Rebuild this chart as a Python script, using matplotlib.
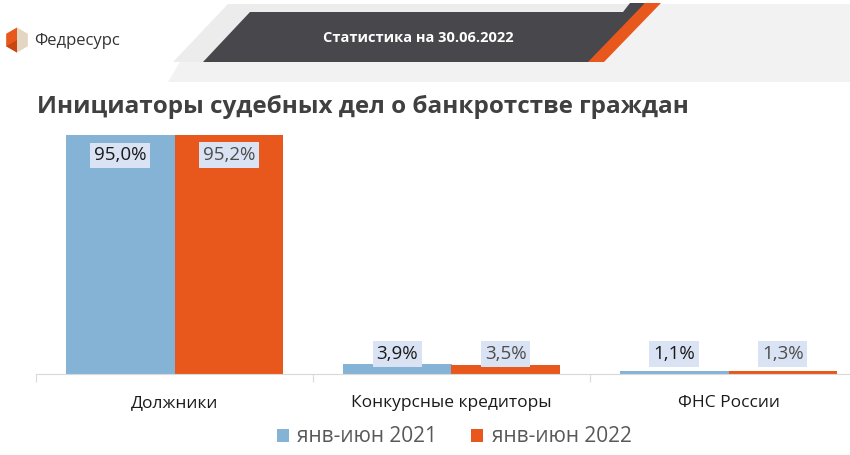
import matplotlib.pyplot as plt
from matplotlib.patches import Polygon
import numpy as np

plt.rcParams['font.family'] = ['Open Sans', 'DejaVu Sans']

categories = ['Должники', 'Конкурсные кредиторы', 'ФНС России']
series_names = ['янв-июн 2021', 'янв-июн 2022']
values_2021 = [95.0, 3.9, 1.1]
values_2022 = [95.2, 3.5, 1.3]

title = 'Инициаторы судебных дел о банкротстве граждан'
header = 'Статистика на 30.06.2022'
brand = 'Федресурс'

blue = '#85b3d6'
orange = '#e8581d'
W, H = 850, 455

fig = plt.figure(figsize=(W / 100, H / 100), dpi=100)

# background layer in pixel coords for the header decoration
bg = fig.add_axes([0, 0, 1, 1], zorder=0)
bg.set_xlim(0, W)
bg.set_ylim(H, 0)
bg.axis('off')
bg.add_patch(Polygon([(180, 62), (W, 62), (W, 82), (168, 82)], closed=True, fc='#f2f2f2', ec='none'))
bg.add_patch(Polygon([(228, 4), (W, 4), (W, 62), (173, 62)], closed=True, fc='#ececec', ec='none'))
bg.add_patch(Polygon([(640, 4), (W, 4), (W, 62), (596, 62)], closed=True, fc='#f2f2f2', ec='none'))
bg.add_patch(Polygon([(250, 12), (623, 12), (630, 3), (645, 3), (603, 62), (203, 62)],
                     closed=True, fc='#47474c', ec='none'))
bg.add_patch(Polygon([(645, 3), (661, 3), (604, 62), (588, 62)], closed=True, fc=orange, ec='none'))
bg.text(418, 38, header, color='white', fontsize=10.5, fontweight='bold', ha='center', va='center')

# logo: orange on the left, beige on the right
cx, cy, r = 17, 40, 12.5
ang = np.deg2rad(np.arange(90, 450, 60))
hx = cx + r * np.cos(ang)
hy = cy - r * np.sin(ang)
bg.add_patch(Polygon([(hx[0], hy[0]), (hx[5], hy[5]), (hx[4], hy[4]), (hx[3], hy[3]), (cx, cy)],
                     closed=True, fc='#e3d6c2', ec='none'))
bg.add_patch(Polygon([(hx[0], hy[0]), (hx[1], hy[1]), (hx[2], hy[2]), (hx[3], hy[3]), (cx, cy)],
                     closed=True, fc=orange, ec='none'))
bg.add_patch(Polygon([(hx[2], hy[2]), (hx[3], hy[3]), (cx, cy)], closed=True, fc='#c94512', ec='none'))
bg.text(34, 41, brand, color='#333333', fontsize=12, ha='left', va='center')

bg.text(37, 107, title, color='#404040', fontsize=17.5, fontweight='bold', ha='left', va='center')

# chart
ax = fig.add_axes([36 / W, 81 / H, 831 / W, 239 / H], zorder=1)
ax.patch.set_alpha(0)
x = np.arange(len(categories))
bw = 0.393
b1 = ax.bar(x - bw / 2, values_2021, bw, color=blue, label=series_names[0])
b2 = ax.bar(x + bw / 2, values_2022, bw, color=orange, label=series_names[1])
ax.set_xlim(-0.5, len(categories) - 0.5)
ax.set_ylim(0, 95.1)

for xs, vals, tc in [(x - bw / 2, values_2021, '#1a1a1a'), (x + bw / 2, values_2022, '#4d4d4d')]:
    for xi, v in zip(xs, vals):
        y = v - 8.0 if v > 50 else 8.0
        ax.text(xi, y, f'{v:.1f}%'.replace('.', ','), ha='center', va='center', fontsize=13.5, color=tc,
                bbox=dict(boxstyle='square,pad=0.2', fc='#dae3f3', ec='none'))

for s in ['top', 'right', 'left']:
    ax.spines[s].set_visible(False)
ax.spines['bottom'].set_color('#d9d9d9')
ax.set_yticks([])
ax.set_xticks(np.arange(-0.5, len(categories), 1), minor=False)
ax.set_xticklabels([])
ax.tick_params(axis='x', length=6, color='#d9d9d9')
ax.set_xticks(x, minor=True)
ax.set_xticklabels(categories, minor=True, fontsize=12.5, color='#1a1a1a')
ax.tick_params(axis='x', which='minor', length=0, pad=15)

fig.legend(handles=[b1, b2], loc='center', bbox_to_anchor=(454 / W, 1 - 437 / H), ncol=2,
           frameon=False, fontsize=15, labelcolor='#595959', handlelength=0.6, handleheight=0.6,
           handletextpad=0.4, columnspacing=1.6)

fig.savefig('out.png', dpi=100)
